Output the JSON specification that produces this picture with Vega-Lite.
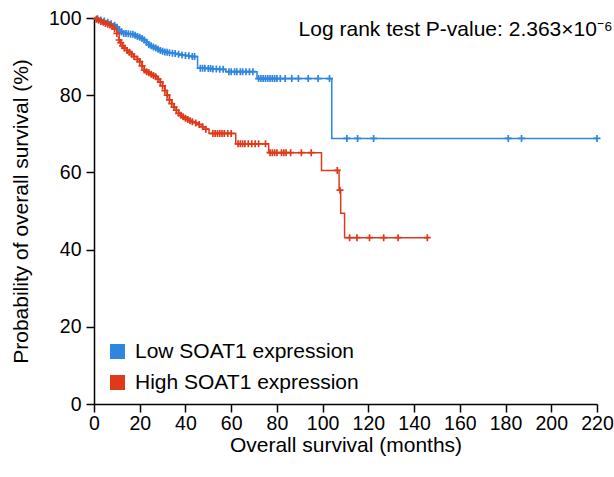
{
  "$schema": "https://vega.github.io/schema/vega-lite/v6.json",
  "width": 503,
  "height": 386,
  "autosize": {"type": "none"},
  "padding": {"left": 94, "top": 18, "right": 17, "bottom": 73},
  "background": "white",
  "config": {
    "view": {"stroke": null},
    "font": "Liberation Sans",
    "axis": {
      "domainColor": "black", "domainWidth": 1.5, "tickColor": "black", "tickWidth": 1.5,
      "labelColor": "black", "labelFont": "Liberation Sans", "labelFontSize": 19.5,
      "titleColor": "black", "titleFont": "Liberation Sans", "titleFontSize": 21, "titleFontWeight": "normal",
      "grid": false
    },
    "legend": {"labelFont": "Liberation Sans", "labelFontSize": 21, "labelColor": "black", "labelLimit": 400}
  },
  "datasets": {
    "km": [
      {"g":"Low SOAT1 expression","t":0,"s":100,"c":0},
      {"g":"Low SOAT1 expression","t":1.5,"s":99.8,"c":1},
      {"g":"Low SOAT1 expression","t":3,"s":99.5,"c":1},
      {"g":"Low SOAT1 expression","t":4.5,"s":99.2,"c":1},
      {"g":"Low SOAT1 expression","t":6,"s":98.9,"c":1},
      {"g":"Low SOAT1 expression","t":7.5,"s":98.5,"c":1},
      {"g":"Low SOAT1 expression","t":9,"s":98.1,"c":1},
      {"g":"Low SOAT1 expression","t":10,"s":97.6,"c":1},
      {"g":"Low SOAT1 expression","t":11,"s":97,"c":1},
      {"g":"Low SOAT1 expression","t":12,"s":96.4,"c":1},
      {"g":"Low SOAT1 expression","t":13,"s":96,"c":1},
      {"g":"Low SOAT1 expression","t":14,"s":96,"c":1},
      {"g":"Low SOAT1 expression","t":15,"s":95.9,"c":1},
      {"g":"Low SOAT1 expression","t":16,"s":95.8,"c":1},
      {"g":"Low SOAT1 expression","t":17,"s":95.8,"c":1},
      {"g":"Low SOAT1 expression","t":18,"s":95.5,"c":1},
      {"g":"Low SOAT1 expression","t":19,"s":95.2,"c":1},
      {"g":"Low SOAT1 expression","t":20,"s":95,"c":1},
      {"g":"Low SOAT1 expression","t":21,"s":94.7,"c":1},
      {"g":"Low SOAT1 expression","t":22,"s":94.3,"c":1},
      {"g":"Low SOAT1 expression","t":23,"s":93.7,"c":1},
      {"g":"Low SOAT1 expression","t":24,"s":93.1,"c":1},
      {"g":"Low SOAT1 expression","t":25,"s":92.8,"c":1},
      {"g":"Low SOAT1 expression","t":26,"s":92.5,"c":1},
      {"g":"Low SOAT1 expression","t":27,"s":92.2,"c":1},
      {"g":"Low SOAT1 expression","t":28,"s":91.9,"c":1},
      {"g":"Low SOAT1 expression","t":29,"s":91.6,"c":1},
      {"g":"Low SOAT1 expression","t":30,"s":91.4,"c":1},
      {"g":"Low SOAT1 expression","t":31,"s":91.2,"c":1},
      {"g":"Low SOAT1 expression","t":32,"s":91.1,"c":1},
      {"g":"Low SOAT1 expression","t":33,"s":91,"c":1},
      {"g":"Low SOAT1 expression","t":34.3,"s":90.9,"c":1},
      {"g":"Low SOAT1 expression","t":35.5,"s":90.8,"c":1},
      {"g":"Low SOAT1 expression","t":37,"s":90.6,"c":1},
      {"g":"Low SOAT1 expression","t":38.5,"s":90.4,"c":1},
      {"g":"Low SOAT1 expression","t":40,"s":90.3,"c":1},
      {"g":"Low SOAT1 expression","t":41.5,"s":90.2,"c":1},
      {"g":"Low SOAT1 expression","t":43,"s":90,"c":1},
      {"g":"Low SOAT1 expression","t":44,"s":90,"c":1},
      {"g":"Low SOAT1 expression","t":45.3,"s":87,"c":0},
      {"g":"Low SOAT1 expression","t":46.5,"s":87,"c":1},
      {"g":"Low SOAT1 expression","t":47.5,"s":87,"c":1},
      {"g":"Low SOAT1 expression","t":48.5,"s":87,"c":1},
      {"g":"Low SOAT1 expression","t":50,"s":86.9,"c":1},
      {"g":"Low SOAT1 expression","t":51,"s":86.9,"c":1},
      {"g":"Low SOAT1 expression","t":52,"s":86.8,"c":1},
      {"g":"Low SOAT1 expression","t":53.5,"s":86.8,"c":1},
      {"g":"Low SOAT1 expression","t":55,"s":86.7,"c":1},
      {"g":"Low SOAT1 expression","t":56.5,"s":86.7,"c":1},
      {"g":"Low SOAT1 expression","t":57.6,"s":86.1,"c":0},
      {"g":"Low SOAT1 expression","t":59,"s":86.1,"c":1},
      {"g":"Low SOAT1 expression","t":60,"s":86.1,"c":1},
      {"g":"Low SOAT1 expression","t":61.5,"s":86.1,"c":1},
      {"g":"Low SOAT1 expression","t":62.5,"s":86.1,"c":1},
      {"g":"Low SOAT1 expression","t":64,"s":86.1,"c":1},
      {"g":"Low SOAT1 expression","t":65,"s":86.1,"c":1},
      {"g":"Low SOAT1 expression","t":66.5,"s":86.1,"c":1},
      {"g":"Low SOAT1 expression","t":68,"s":86.1,"c":1},
      {"g":"Low SOAT1 expression","t":69.5,"s":86.1,"c":1},
      {"g":"Low SOAT1 expression","t":71.3,"s":84.3,"c":0},
      {"g":"Low SOAT1 expression","t":72,"s":84.3,"c":1},
      {"g":"Low SOAT1 expression","t":73,"s":84.3,"c":1},
      {"g":"Low SOAT1 expression","t":74,"s":84.3,"c":1},
      {"g":"Low SOAT1 expression","t":75,"s":84.3,"c":1},
      {"g":"Low SOAT1 expression","t":76,"s":84.3,"c":1},
      {"g":"Low SOAT1 expression","t":77,"s":84.3,"c":1},
      {"g":"Low SOAT1 expression","t":78,"s":84.3,"c":1},
      {"g":"Low SOAT1 expression","t":79,"s":84.3,"c":1},
      {"g":"Low SOAT1 expression","t":80,"s":84.3,"c":1},
      {"g":"Low SOAT1 expression","t":81.5,"s":84.3,"c":1},
      {"g":"Low SOAT1 expression","t":83.6,"s":84.3,"c":1},
      {"g":"Low SOAT1 expression","t":86.5,"s":84.3,"c":1},
      {"g":"Low SOAT1 expression","t":89.4,"s":84.3,"c":1},
      {"g":"Low SOAT1 expression","t":93.7,"s":84.3,"c":1},
      {"g":"Low SOAT1 expression","t":98,"s":84.3,"c":1},
      {"g":"Low SOAT1 expression","t":103,"s":84.3,"c":1},
      {"g":"Low SOAT1 expression","t":104,"s":68.8,"c":0},
      {"g":"Low SOAT1 expression","t":110.6,"s":68.8,"c":1},
      {"g":"Low SOAT1 expression","t":115.3,"s":68.8,"c":1},
      {"g":"Low SOAT1 expression","t":122.3,"s":68.8,"c":1},
      {"g":"Low SOAT1 expression","t":181.2,"s":68.8,"c":1},
      {"g":"Low SOAT1 expression","t":187,"s":68.8,"c":1},
      {"g":"Low SOAT1 expression","t":220,"s":68.8,"c":1},
      {"g":"High SOAT1 expression","t":0,"s":100,"c":0},
      {"g":"High SOAT1 expression","t":1,"s":99.7,"c":1},
      {"g":"High SOAT1 expression","t":2,"s":99.4,"c":1},
      {"g":"High SOAT1 expression","t":3,"s":99.1,"c":1},
      {"g":"High SOAT1 expression","t":4,"s":98.9,"c":1},
      {"g":"High SOAT1 expression","t":5,"s":98.6,"c":1},
      {"g":"High SOAT1 expression","t":6,"s":98.4,"c":1},
      {"g":"High SOAT1 expression","t":7,"s":98.2,"c":1},
      {"g":"High SOAT1 expression","t":8,"s":97.8,"c":1},
      {"g":"High SOAT1 expression","t":9,"s":97.2,"c":1},
      {"g":"High SOAT1 expression","t":10,"s":96,"c":1},
      {"g":"High SOAT1 expression","t":11,"s":94.3,"c":1},
      {"g":"High SOAT1 expression","t":11.7,"s":93.6,"c":1},
      {"g":"High SOAT1 expression","t":12.5,"s":92.8,"c":1},
      {"g":"High SOAT1 expression","t":13.3,"s":92.2,"c":1},
      {"g":"High SOAT1 expression","t":14.5,"s":91.6,"c":1},
      {"g":"High SOAT1 expression","t":15.5,"s":91.1,"c":1},
      {"g":"High SOAT1 expression","t":16.5,"s":90.6,"c":1},
      {"g":"High SOAT1 expression","t":17.5,"s":90,"c":1},
      {"g":"High SOAT1 expression","t":19,"s":89.3,"c":1},
      {"g":"High SOAT1 expression","t":20,"s":88.7,"c":1},
      {"g":"High SOAT1 expression","t":21,"s":87.6,"c":1},
      {"g":"High SOAT1 expression","t":22,"s":86.5,"c":1},
      {"g":"High SOAT1 expression","t":23,"s":86.1,"c":1},
      {"g":"High SOAT1 expression","t":24,"s":85.8,"c":1},
      {"g":"High SOAT1 expression","t":25,"s":85.4,"c":1},
      {"g":"High SOAT1 expression","t":26,"s":85.1,"c":1},
      {"g":"High SOAT1 expression","t":27,"s":84.8,"c":1},
      {"g":"High SOAT1 expression","t":28,"s":84.2,"c":1},
      {"g":"High SOAT1 expression","t":29,"s":83.4,"c":1},
      {"g":"High SOAT1 expression","t":30,"s":82.4,"c":1},
      {"g":"High SOAT1 expression","t":31,"s":81.2,"c":1},
      {"g":"High SOAT1 expression","t":32,"s":80,"c":1},
      {"g":"High SOAT1 expression","t":33,"s":78.8,"c":1},
      {"g":"High SOAT1 expression","t":34,"s":77.8,"c":1},
      {"g":"High SOAT1 expression","t":35,"s":76.9,"c":1},
      {"g":"High SOAT1 expression","t":36,"s":76.1,"c":1},
      {"g":"High SOAT1 expression","t":37,"s":75.3,"c":1},
      {"g":"High SOAT1 expression","t":38,"s":74.8,"c":1},
      {"g":"High SOAT1 expression","t":39,"s":74.4,"c":1},
      {"g":"High SOAT1 expression","t":40,"s":74,"c":1},
      {"g":"High SOAT1 expression","t":41,"s":73.7,"c":1},
      {"g":"High SOAT1 expression","t":42,"s":73.4,"c":1},
      {"g":"High SOAT1 expression","t":43,"s":73.1,"c":1},
      {"g":"High SOAT1 expression","t":44.5,"s":72.8,"c":1},
      {"g":"High SOAT1 expression","t":46,"s":72.4,"c":1},
      {"g":"High SOAT1 expression","t":47.5,"s":71.8,"c":1},
      {"g":"High SOAT1 expression","t":48.9,"s":71.2,"c":1},
      {"g":"High SOAT1 expression","t":50.3,"s":70.1,"c":0},
      {"g":"High SOAT1 expression","t":52,"s":70.1,"c":1},
      {"g":"High SOAT1 expression","t":53,"s":70.1,"c":1},
      {"g":"High SOAT1 expression","t":54,"s":70.1,"c":1},
      {"g":"High SOAT1 expression","t":55,"s":70.1,"c":1},
      {"g":"High SOAT1 expression","t":56,"s":70.1,"c":1},
      {"g":"High SOAT1 expression","t":57,"s":70.1,"c":1},
      {"g":"High SOAT1 expression","t":58.5,"s":70.1,"c":1},
      {"g":"High SOAT1 expression","t":60,"s":70.1,"c":1},
      {"g":"High SOAT1 expression","t":62,"s":67.4,"c":0},
      {"g":"High SOAT1 expression","t":63,"s":67.4,"c":1},
      {"g":"High SOAT1 expression","t":64,"s":67.4,"c":1},
      {"g":"High SOAT1 expression","t":65,"s":67.4,"c":1},
      {"g":"High SOAT1 expression","t":66,"s":67.4,"c":1},
      {"g":"High SOAT1 expression","t":67.5,"s":67.4,"c":1},
      {"g":"High SOAT1 expression","t":69,"s":67.4,"c":1},
      {"g":"High SOAT1 expression","t":70.5,"s":67.4,"c":1},
      {"g":"High SOAT1 expression","t":72,"s":67.4,"c":1},
      {"g":"High SOAT1 expression","t":75,"s":67.4,"c":1},
      {"g":"High SOAT1 expression","t":76.4,"s":65.1,"c":0},
      {"g":"High SOAT1 expression","t":77,"s":65.1,"c":1},
      {"g":"High SOAT1 expression","t":78,"s":65.1,"c":1},
      {"g":"High SOAT1 expression","t":79,"s":65.1,"c":1},
      {"g":"High SOAT1 expression","t":80,"s":65.1,"c":1},
      {"g":"High SOAT1 expression","t":82,"s":65.1,"c":1},
      {"g":"High SOAT1 expression","t":83,"s":65.1,"c":1},
      {"g":"High SOAT1 expression","t":84,"s":65.1,"c":1},
      {"g":"High SOAT1 expression","t":86,"s":65.1,"c":1},
      {"g":"High SOAT1 expression","t":90.7,"s":65.1,"c":1},
      {"g":"High SOAT1 expression","t":95,"s":65.1,"c":1},
      {"g":"High SOAT1 expression","t":99.5,"s":60.5,"c":0},
      {"g":"High SOAT1 expression","t":106.4,"s":60.5,"c":1},
      {"g":"High SOAT1 expression","t":107.2,"s":55.4,"c":0},
      {"g":"High SOAT1 expression","t":107.6,"s":55.4,"c":1},
      {"g":"High SOAT1 expression","t":107.9,"s":49.4,"c":0},
      {"g":"High SOAT1 expression","t":109.6,"s":43.1,"c":0},
      {"g":"High SOAT1 expression","t":111.8,"s":43.1,"c":1},
      {"g":"High SOAT1 expression","t":115,"s":43.1,"c":1},
      {"g":"High SOAT1 expression","t":120.5,"s":43.1,"c":1},
      {"g":"High SOAT1 expression","t":126.7,"s":43.1,"c":1},
      {"g":"High SOAT1 expression","t":133,"s":43.1,"c":1},
      {"g":"High SOAT1 expression","t":145.8,"s":43.1,"c":1}
    ]
  },
  "layer": [
    {
      "data": {"name": "km"},
      "mark": {"type": "line", "interpolate": "step-after", "strokeWidth": 1.5},
      "encoding": {
        "x": {"field": "t", "type": "quantitative",
          "scale": {"domain": [0, 220], "nice": false, "zero": true},
          "axis": {"title": "Overall survival (months)", "values": [0,20,40,60,80,100,120,140,160,180,200,220],
            "tickSize": 8, "labelPadding": 2, "titlePadding": 2, "labelFlush": false}},
        "y": {"field": "s", "type": "quantitative",
          "scale": {"domain": [0, 100], "nice": false},
          "axis": {"title": "Probability of overall survival (%)", "values": [0,20,40,60,80,100],
            "tickSize": 8, "labelPadding": 5, "titlePadding": 17}},
        "color": {"field": "g", "type": "nominal",
          "scale": {"domain": ["Low SOAT1 expression", "High SOAT1 expression"], "range": ["#2e86de", "#de3a1a"]},
          "legend": {"title": null, "orient": "none", "legendX": 13, "legendY": 323,
            "symbolType": "square", "symbolSize": 225, "rowPadding": 9, "labelOffset": 7,
            "encode": {"symbols": {"update": {"fill": {"scale": "color", "field": "value"}, "strokeWidth": {"value": 0}}}}}}
      }
    },
    {
      "data": {"name": "km"},
      "transform": [{"filter": "datum.c == 1"}],
      "mark": {"type": "point", "shape": "M-1,0H1M0,-1V1", "filled": false, "size": 49, "strokeWidth": 1.7, "opacity": 1},
      "encoding": {
        "x": {"field": "t", "type": "quantitative"},
        "y": {"field": "s", "type": "quantitative"},
        "color": {"field": "g", "type": "nominal", "legend": null}
      }
    },
    {
      "data": {"values": [{"label": "Log rank test P-value: 2.363×10⁻⁶", "px": 226.8, "py": 96.9}]},
      "mark": {"type": "text", "align": "right", "baseline": "middle", "fontSize": 21, "font": "Liberation Sans", "color": "black"},
      "encoding": {
        "x": {"field": "px", "type": "quantitative"},
        "y": {"field": "py", "type": "quantitative"},
        "text": {"field": "label", "type": "nominal"}
      }
    }
  ]
}
